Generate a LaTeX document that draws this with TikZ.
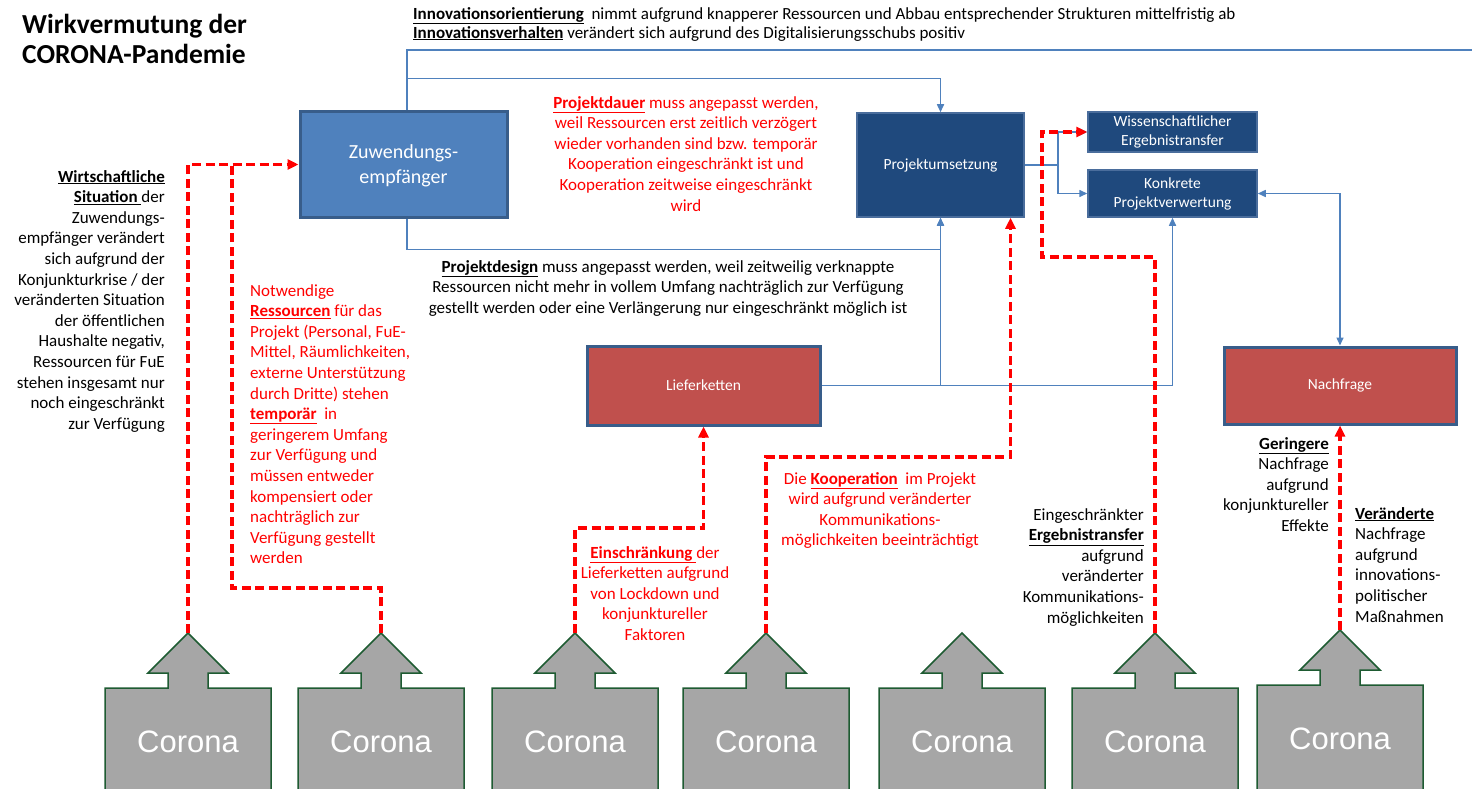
\documentclass[tikz,border=0pt]{standalone}
\usepackage{fontspec}
\setmainfont{Carlito}
\newfontfamily\arialfont{Liberation Sans}
\usetikzlibrary{arrows.meta}

\definecolor{boxblue}{HTML}{4F81BD}
\definecolor{boxedge}{HTML}{385D8A}
\definecolor{navy}{HTML}{1F497D}
\definecolor{navyedge}{HTML}{4A6D9C}
\definecolor{boxred}{HTML}{C0504D}
\definecolor{coronagray}{HTML}{A6A6A6}
\definecolor{coronaedge}{HTML}{1E5B32}
\definecolor{linkred}{HTML}{FF0000}

\newcommand{\kw}[1]{\underline{\textbf{#1}}}

\begin{document}
\begin{tikzpicture}[x=1pt,y=-1pt,
  txt/.style={inner sep=0pt,font=\fontsize{17}{20.6}\selectfont},
  redtxt/.style={txt,text=linkred},
  bluebox/.style={draw=boxedge,line width=3pt,fill=boxblue,text=white,inner sep=0pt,align=center,font=\fontsize{20}{25}\selectfont},
  navybox/.style={draw=navyedge,line width=1.5pt,fill=navy,text=white,inner sep=0pt,align=center,font=\fontsize{15.5}{19}\selectfont},
  redbox/.style={draw=boxedge,line width=3pt,fill=boxred,text=white,inner sep=0pt,font=\fontsize{15.5}{19}\selectfont},
  blueline/.style={draw=boxblue,line width=1.5pt},
  bluearrow/.style={blueline,-{Triangle[length=8pt,width=7pt]}},
  reddash/.style={draw=linkred,line width=3.5pt,dash pattern=on 9pt off 4.5pt},
  redarrow/.style={reddash,-{Triangle[length=11pt,width=10pt]}},
  corona/.style={draw=coronaedge,line width=1.5pt,fill=coronagray}]
\useasboundingbox (0,0) rectangle (1472,789);
\clip (0,0) rectangle (1472,789);

% title and top remarks
\node[txt,anchor=north west,align=left,font=\fontsize{27.5}{30}\selectfont\bfseries] (title) at (22,14) {Wirkvermutung der\\CORONA-Pandemie};
\node[txt,anchor=north west,align=left,font=\fontsize{17}{19}\selectfont] (orient) at (413,7)
  {\kw{Innovationsorientierung}\ \ nimmt aufgrund knapperer Ressourcen und Abbau entsprechender Strukturen mittelfristig ab\\
   \kw{Innovationsverhalten} verändert sich aufgrund des Digitalisierungsschubs positiv};

% boxes
\node[bluebox,minimum width=207,minimum height=105] (zuw) at (403.5,164.5) {\rule{0pt}{16pt}Zuwendungs-\\empfänger};
\node[navybox,minimum width=167,minimum height=104] (proj) at (940.5,165) {Projektumsetzung};
\node[navybox,minimum width=169,minimum height=40] (wiss) at (1172.5,132) {Wissenschaftlicher\\Ergebnistransfer};
\node[navybox,minimum width=169,minimum height=47] (konk) at (1172.5,193.5) {Konkrete\\Projektverwertung};
\node[redbox,minimum width=233,minimum height=79] (lief) at (703.5,385.5) {Lieferketten};
\node[redbox,minimum width=232,minimum height=77] (nach) at (1340,385.5) {Nachfrage};

% texts
\node[txt,anchor=north east,align=right] (wirt) at (165,170)
  {\kw{Wirtschaftliche}\\\kw{Situation\ }der\\Zuwendungs-\\empfänger verändert\\sich aufgrund der\\Konjunkturkrise / der\\veränderten Situation\\der öffentlichen\\Haushalte negativ,\\Ressourcen für FuE\\stehen insgesamt nur\\noch eingeschränkt\\zur Verfügung};
\node[redtxt,anchor=north west,align=left] (ress) at (250,284)
  {Notwendige\\\kw{Ressourcen} für das\\Projekt (Personal, FuE-\\Mittel, Räumlichkeiten,\\externe Unterstützung\\durch Dritte) stehen\\\kw{temporär}\ \ in\\geringerem Umfang\\zur Verfügung und\\müssen entweder\\kompensiert oder\\nachträglich zur\\Verfügung gestellt\\werden};
\node[redtxt,anchor=north,align=center] (dauer) at (686,96)
  {\kw{Projektdauer} muss angepasst werden,\\weil Ressourcen erst zeitlich verzögert\\wieder vorhanden sind bzw. temporär\\Kooperation eingeschränkt ist und\\Kooperation zeitweise eingeschränkt\\wird};
\node[txt,anchor=north,align=center] (design) at (668,260)
  {\kw{Projektdesign} muss angepasst werden, weil zeitweilig verknappte\\Ressourcen nicht mehr in vollem Umfang nachträglich zur Verfügung\\gestellt werden oder eine Verlängerung nur eingeschränkt möglich ist};
\node[redtxt,anchor=north,align=center] (koop) at (880,472)
  {Die \kw{Kooperation}\ \ im Projekt\\wird aufgrund veränderter\\Kommunikations-\\möglichkeiten beeinträchtigt};
\node[redtxt,anchor=north,align=center] (einschr) at (655,546)
  {\kw{Einschränkung\ }der\\Lieferketten aufgrund\\von Lockdown und\\konjunktureller\\Faktoren};
\node[txt,anchor=north east,align=right] (ergeb) at (1144,508)
  {Eingeschränkter\\\kw{Ergebnistransfer}\\aufgrund\\veränderter\\Kommunikations-\\möglichkeiten};
\node[txt,anchor=north east,align=right] (gering) at (1329,437)
  {\kw{Geringere}\\Nachfrage\\aufgrund\\konjunktureller\\Effekte};
\node[txt,anchor=north west,align=left] (veraend) at (1355,507)
  {\kw{Veränderte}\\Nachfrage\\aufgrund\\innovations-\\politischer\\Maßnahmen};

% corona arrows
\foreach \i/\cx/\ty in {1/188/633,2/381/633,3/575/633,4/766/633,5/962/633,6/1155/633,7/1340/630} {
  \draw[corona] (\cx,\ty) -- ++(40,40) -- ++(-20,0) -- ++(0,15) -- ++(63,0) -- ++(0,130)
    -- ++(-166,0) -- ++(0,-130) -- ++(63,0) -- ++(0,-15) -- ++(-20,0) -- cycle;
  \node[text=white,inner sep=0pt,font=\arialfont\fontsize{31}{36}\selectfont] (c\i) at (\cx,\ty+109) {Corona};
  \coordinate (t\i) at (\cx,\ty);
}

% blue links
\coordinate (topR) at (1472,50);
\draw[blueline] ([xshift=3.5]zuw.north) |- (topR);
\draw[bluearrow] ([xshift=3.5]zuw.north) ++(0,-32) -| (proj.north);
\draw[bluearrow] ([xshift=3.5]zuw.south) -- ++(0,31) -| (proj.south);
\draw[bluearrow] (lief.east) -| (proj.south);
\draw[bluearrow] (lief.east) -| (konk.south);
\draw[blueline] (proj.east) -- ++(33,0) coordinate (fork);
\draw[bluearrow] (fork) |- (wiss.west);
\draw[bluearrow] (fork) |- (konk.west);
\draw[blueline,{Triangle[length=8pt,width=7pt]}-{Triangle[length=8pt,width=7pt]}] (konk.east) -| (nach.north);

% red links
\coordinate (m2) at (232,164.5);
\coordinate (m6) at (1042,132);
\draw[redarrow] (t1) |- (zuw.west);
\draw[reddash] (t2) -- ++(0,-45) -| (m2);
\draw[redarrow] (t3) -- ++(0,-105) -| (lief.south);
\draw[redarrow] (t4) -- ++(0,-176) -| ([xshift=70]proj.south);
\draw[redarrow] (t6) -- ++(0,-376) -| (m6) -- (wiss.west);
\draw[redarrow] (t7) -- (nach.south);
\end{tikzpicture}
\end{document}
